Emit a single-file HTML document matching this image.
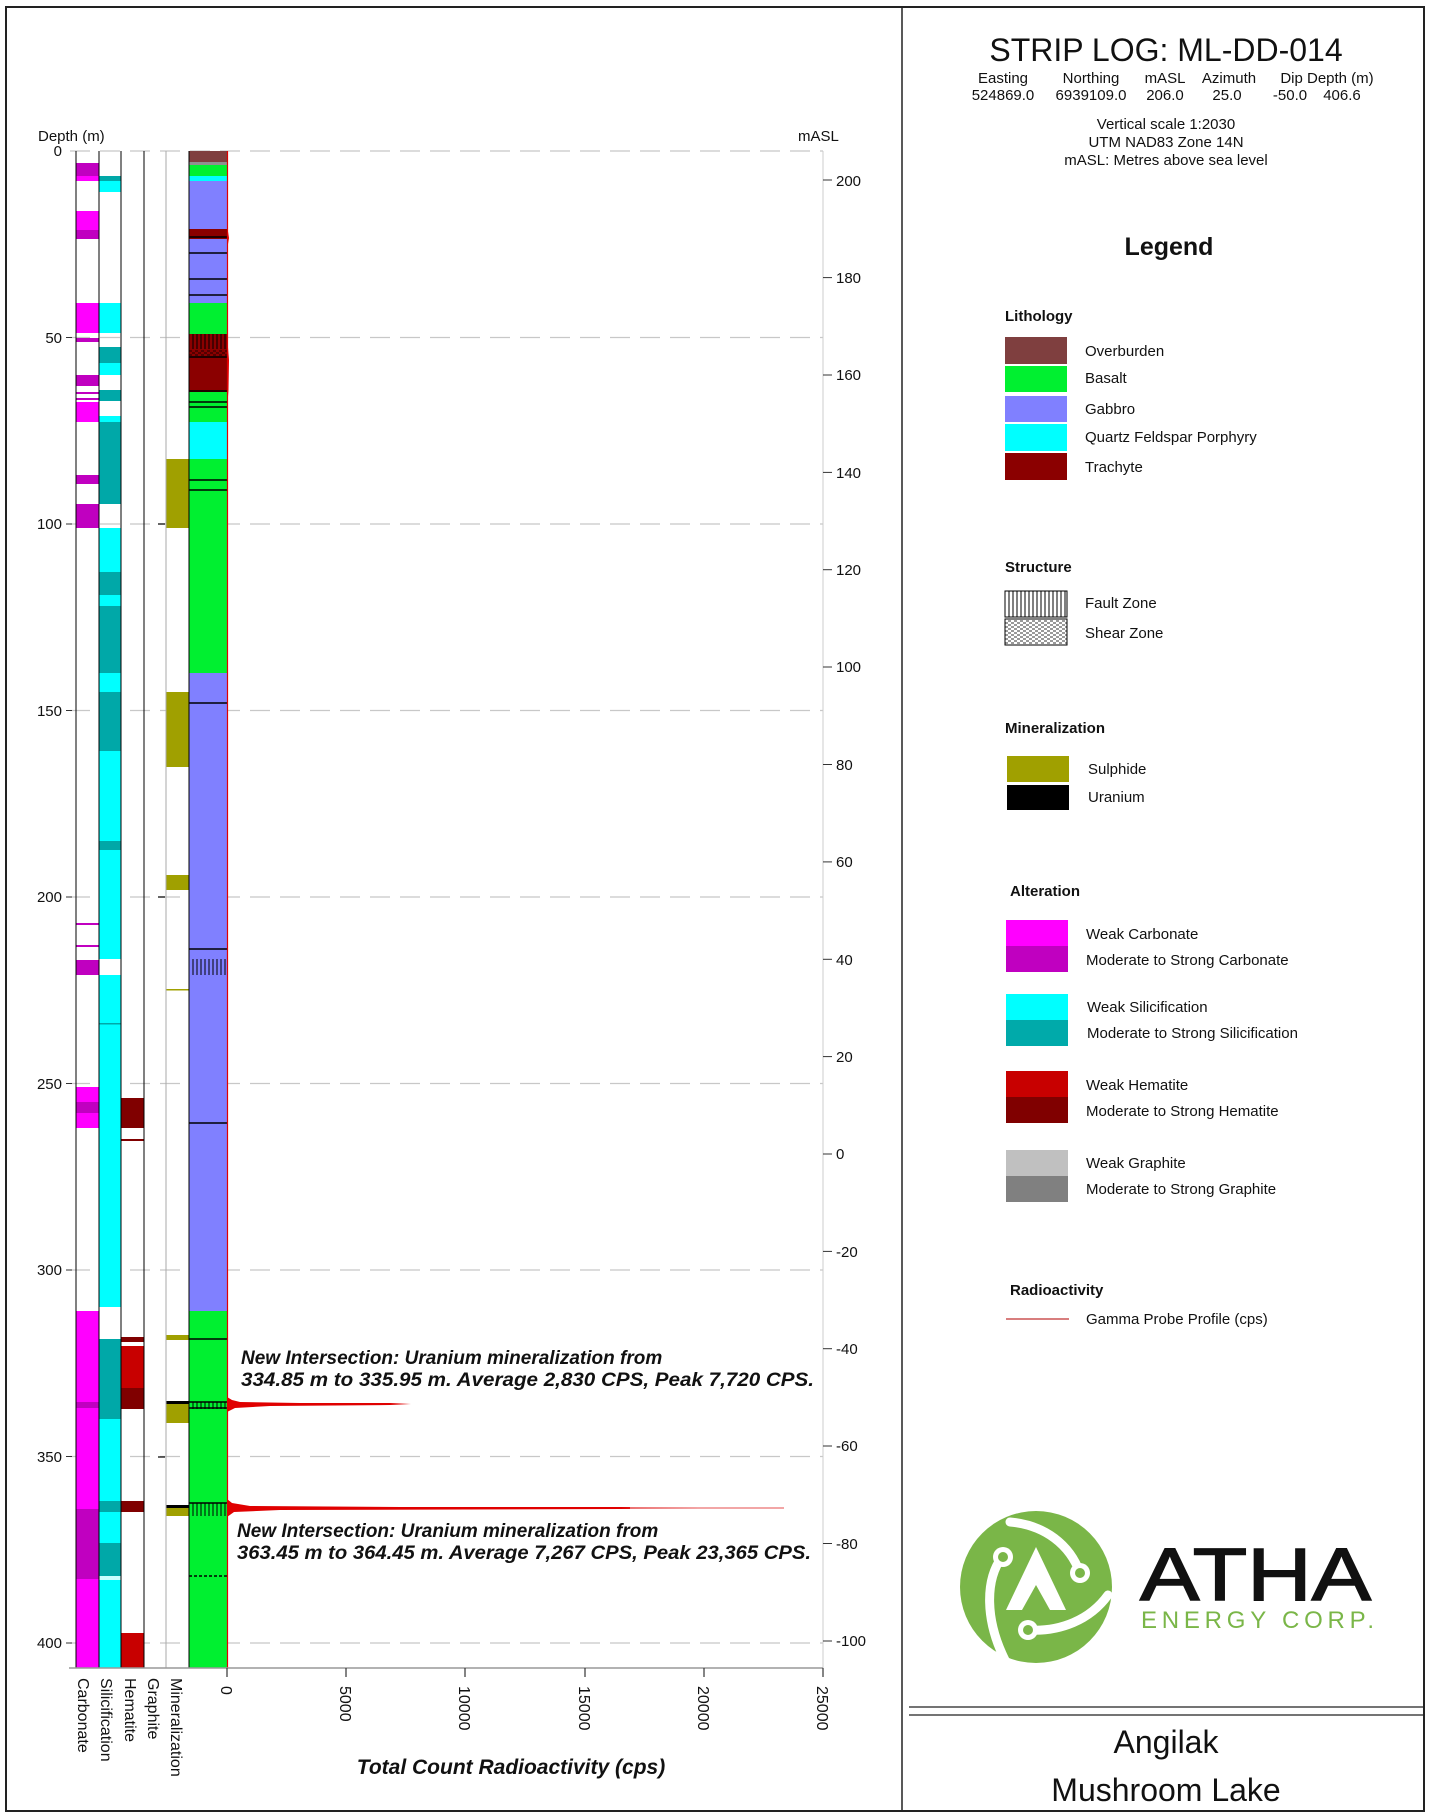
<!DOCTYPE html>
<html><head><meta charset="utf-8"><style>
html,body{margin:0;padding:0;background:#fff}
svg{display:block}
text{font-family:"Liberation Sans",Arial,sans-serif}
</style></head><body>
<svg width="1431" height="1819" viewBox="0 0 1431 1819" xmlns="http://www.w3.org/2000/svg">
<defs>
<pattern id="fault" width="4" height="10" patternUnits="userSpaceOnUse"><line x1="1" y1="0" x2="1" y2="10" stroke="#000" stroke-width="1"/></pattern>
<pattern id="shear" width="6" height="4" patternUnits="userSpaceOnUse"><line x1="0" y1="1" x2="3" y2="1" stroke="#000" stroke-width="0.8"/><line x1="3" y1="3" x2="6" y2="3" stroke="#000" stroke-width="0.8"/></pattern>
</defs>
<rect x="0" y="0" width="1431" height="1819" fill="#fff"/>
<rect x="6" y="7" width="1418" height="1804" fill="none" stroke="#222" stroke-width="2"/>
<line x1="902" y1="7" x2="902" y2="1811" stroke="#222" stroke-width="1.5"/>

<g stroke="#c8c8c8" stroke-width="1.2" stroke-dasharray="20,10">
<line x1="70" y1="151" x2="823" y2="151"/>
<line x1="70" y1="337.5" x2="823" y2="337.5"/>
<line x1="70" y1="524" x2="823" y2="524"/>
<line x1="70" y1="710.5" x2="823" y2="710.5"/>
<line x1="70" y1="897" x2="823" y2="897"/>
<line x1="70" y1="1083.5" x2="823" y2="1083.5"/>
<line x1="70" y1="1270" x2="823" y2="1270"/>
<line x1="70" y1="1456.5" x2="823" y2="1456.5"/>
<line x1="70" y1="1643" x2="823" y2="1643"/>
</g>

<g>
<rect x="76" y="163" width="23" height="13" fill="#c000c0"/>
<rect x="76" y="176" width="23" height="5" fill="#ff00ff"/>
<rect x="76" y="211" width="23" height="19" fill="#ff00ff"/>
<rect x="76" y="230" width="23" height="9" fill="#c000c0"/>
<rect x="76" y="303" width="23" height="30" fill="#ff00ff"/>
<rect x="76" y="338" width="23" height="4" fill="#c000c0"/>
<rect x="76" y="375" width="23" height="11" fill="#c000c0"/>
<rect x="76" y="392" width="23" height="2" fill="#c000c0"/>
<rect x="76" y="398" width="23" height="2" fill="#c000c0"/>
<rect x="76" y="402" width="23" height="20" fill="#ff00ff"/>
<rect x="76" y="475" width="23" height="9" fill="#c000c0"/>
<rect x="76" y="504" width="23" height="24" fill="#c000c0"/>
<rect x="76" y="923" width="23" height="2" fill="#c000c0"/>
<rect x="76" y="945" width="23" height="2" fill="#c000c0"/>
<rect x="76" y="960" width="23" height="15" fill="#c000c0"/>
<rect x="76" y="1087" width="23" height="41" fill="#ff00ff"/>
<rect x="76" y="1102" width="23" height="11" fill="#c000c0"/>
<rect x="76" y="1311" width="23" height="91" fill="#ff00ff"/>
<rect x="76" y="1402" width="23" height="6" fill="#c000c0"/>
<rect x="76" y="1408" width="23" height="101" fill="#ff00ff"/>
<rect x="76" y="1509" width="23" height="70" fill="#c000c0"/>
<rect x="76" y="1579" width="23" height="89" fill="#ff00ff"/>
</g>
<g>
<rect x="99" y="176" width="22" height="5" fill="#00a8a8"/>
<rect x="99" y="181" width="22" height="11" fill="#00ffff"/>
<rect x="99" y="303" width="22" height="30" fill="#00ffff"/>
<rect x="99" y="347" width="22" height="16" fill="#00a8a8"/>
<rect x="99" y="363" width="22" height="12" fill="#00ffff"/>
<rect x="99" y="390" width="22" height="11" fill="#00a8a8"/>
<rect x="99" y="416" width="22" height="6" fill="#00ffff"/>
<rect x="99" y="422" width="22" height="82" fill="#00a8a8"/>
<rect x="99" y="528" width="22" height="431" fill="#00ffff"/>
<rect x="99" y="572" width="22" height="23" fill="#00a8a8"/>
<rect x="99" y="606" width="22" height="67" fill="#00a8a8"/>
<rect x="99" y="692" width="22" height="59" fill="#00a8a8"/>
<rect x="99" y="841" width="22" height="9" fill="#00a8a8"/>
<rect x="99" y="975" width="22" height="332" fill="#00ffff"/>
<rect x="99" y="1023" width="22" height="1.5" fill="#00a8a8"/>
<rect x="99" y="1339" width="22" height="80" fill="#00a8a8"/>
<rect x="99" y="1419" width="22" height="82" fill="#00ffff"/>
<rect x="99" y="1501" width="22" height="11" fill="#00a8a8"/>
<rect x="99" y="1512" width="22" height="31" fill="#00ffff"/>
<rect x="99" y="1543" width="22" height="33" fill="#00a8a8"/>
<rect x="99" y="1576" width="22" height="4" fill="#c8ffff"/>
<rect x="99" y="1580" width="22" height="88" fill="#00ffff"/>
</g>
<g>
<rect x="121" y="1098" width="23" height="30" fill="#800000"/>
<rect x="121" y="1139" width="23" height="2" fill="#800000"/>
<rect x="121" y="1337" width="23" height="5" fill="#800000"/>
<rect x="121" y="1346" width="23" height="42" fill="#c80000"/>
<rect x="121" y="1388" width="23" height="21" fill="#800000"/>
<rect x="121" y="1501" width="23" height="11" fill="#800000"/>
<rect x="121" y="1633" width="23" height="35" fill="#c80000"/>
</g>
<g stroke="#000" stroke-width="1.2">
<line x1="158" y1="524" x2="165" y2="524"/>
<line x1="158" y1="897" x2="165" y2="897"/>
<line x1="158" y1="1457" x2="165" y2="1457"/>
</g>
<g>
<rect x="166" y="459" width="23" height="69" fill="#a0a000"/>
<rect x="166" y="692" width="23" height="75" fill="#a0a000"/>
<rect x="166" y="875" width="23" height="15" fill="#a0a000"/>
<rect x="166" y="989" width="23" height="1.5" fill="#a0a000"/>
<rect x="166" y="1335" width="23" height="5" fill="#a0a000"/>
<rect x="166" y="1404" width="23" height="19" fill="#a0a000"/>
<rect x="166" y="1401" width="23" height="3" fill="#000"/>
<rect x="166" y="1508" width="23" height="8" fill="#a0a000"/>
<rect x="166" y="1505" width="23" height="3" fill="#000"/>
</g>
<g>
<rect x="189" y="151" width="38" height="11" fill="#7f3f3f"/>
<rect x="189" y="162" width="38" height="3" fill="#909090"/>
<rect x="189" y="165" width="38" height="11" fill="#00f030"/>
<rect x="189" y="176" width="38" height="5" fill="#00ffff"/>
<rect x="189" y="181" width="38" height="48" fill="#8080ff"/>
<rect x="189" y="229" width="38" height="10" fill="#8b0000"/>
<rect x="189" y="239" width="38" height="64" fill="#8080ff"/>
<rect x="189" y="303" width="38" height="31" fill="#00f030"/>
<rect x="189" y="334" width="38" height="58" fill="#8b0000"/>
<rect x="189" y="334" width="38" height="15" fill="url(#fault)"/>
<rect x="189" y="350" width="38" height="7" fill="url(#shear)"/>
<rect x="189" y="392" width="38" height="30" fill="#00f030"/>
<rect x="189" y="422" width="38" height="37" fill="#00ffff"/>
<rect x="189" y="459" width="38" height="214" fill="#00f030"/>
<rect x="189" y="673" width="38" height="638" fill="#8080ff"/>
<rect x="189" y="1311" width="38" height="357" fill="#00f030"/>
<rect x="189" y="959" width="38" height="16" fill="url(#fault)"/>
<rect x="189" y="1402" width="38" height="7" fill="url(#fault)"/>
<rect x="189" y="1503" width="38" height="13" fill="url(#fault)"/>
<g stroke="#000" stroke-width="1.5">
<line x1="189" y1="237" x2="227" y2="237"/>
<line x1="189" y1="253" x2="227" y2="253"/>
<line x1="189" y1="279" x2="227" y2="279"/>
<line x1="189" y1="295" x2="227" y2="295"/>
<line x1="189" y1="357" x2="227" y2="357"/>
<line x1="189" y1="391" x2="227" y2="391"/>
<line x1="189" y1="402" x2="227" y2="402"/>
<line x1="189" y1="407" x2="227" y2="407"/>
<line x1="189" y1="480" x2="227" y2="480"/>
<line x1="189" y1="490" x2="227" y2="490"/>
<line x1="189" y1="703" x2="227" y2="703"/>
<line x1="189" y1="949" x2="227" y2="949"/>
<line x1="189" y1="1123" x2="227" y2="1123"/>
<line x1="189" y1="1339" x2="227" y2="1339"/>
<line x1="189" y1="1402" x2="227" y2="1402"/>
<line x1="189" y1="1408" x2="227" y2="1408"/>
<line x1="189" y1="1503" x2="227" y2="1503"/>
<line x1="189" y1="1576" x2="227" y2="1576" stroke-dasharray="3,2"/>
</g>
</g>
<g stroke="#000" stroke-width="1">
<line x1="76" y1="151" x2="76" y2="1668"/>
<line x1="99" y1="151" x2="99" y2="1668"/>
<line x1="121" y1="151" x2="121" y2="1668"/>
<line x1="144" y1="151" x2="144" y2="1668"/>
<line x1="189" y1="151" x2="189" y2="1668"/>
</g>
<line x1="166" y1="151" x2="166" y2="1668" stroke="#aaa" stroke-width="1"/>
<line x1="823" y1="151" x2="823" y2="1668" stroke="#ccc" stroke-width="1"/>
<line x1="227.5" y1="151" x2="227.5" y2="1668" stroke="#e00000" stroke-width="1.2"/>
<path d="M227,225 L229,238 L227,250 Z M227,335 L229,360 L228.5,390 L227,410 Z" fill="#e00000"/>
<polygon points="227,1397 232,1400 240,1402 300,1403 390,1403 411,1404 390,1405 270,1406 235,1408 227,1412" fill="#e00000"/>
<polygon points="227,1499 232,1503 250,1506 400,1507 620,1507 784,1508 620,1509 280,1510 234,1512 227,1517" fill="#e00000"/>
<line x1="630" y1="1508" x2="784" y2="1508" stroke="#e88" stroke-width="1.5"/>

<g font-size="15" fill="#111" text-anchor="end">
<text x="62" y="156">0</text>
<text x="62" y="343">50</text>
<text x="62" y="529">100</text>
<text x="62" y="716">150</text>
<text x="62" y="902">200</text>
<text x="62" y="1089">250</text>
<text x="62" y="1275">300</text>
<text x="62" y="1462">350</text>
<text x="62" y="1648">400</text>
</g>
<g stroke="#333" stroke-width="1">
<line x1="66" y1="337.5" x2="72" y2="337.5"/><line x1="66" y1="524" x2="72" y2="524"/><line x1="66" y1="710.5" x2="72" y2="710.5"/><line x1="66" y1="897" x2="72" y2="897"/><line x1="66" y1="1083.5" x2="72" y2="1083.5"/><line x1="66" y1="1270" x2="72" y2="1270"/><line x1="66" y1="1456.5" x2="72" y2="1456.5"/><line x1="66" y1="1643" x2="72" y2="1643"/>
</g>
<text x="38" y="141" font-size="15" fill="#111">Depth (m)</text>
<text x="798" y="141" font-size="15" fill="#111">mASL</text>

<g stroke="#333" stroke-width="1">
<line x1="823" y1="180" x2="832" y2="180"/><line x1="823" y1="277.6" x2="832" y2="277.6"/><line x1="823" y1="375" x2="832" y2="375"/><line x1="823" y1="472.4" x2="832" y2="472.4"/><line x1="823" y1="569.7" x2="832" y2="569.7"/><line x1="823" y1="667" x2="832" y2="667"/><line x1="823" y1="764.5" x2="832" y2="764.5"/><line x1="823" y1="861.9" x2="832" y2="861.9"/><line x1="823" y1="959.3" x2="832" y2="959.3"/><line x1="823" y1="1056.6" x2="832" y2="1056.6"/><line x1="823" y1="1154" x2="832" y2="1154"/><line x1="823" y1="1251.4" x2="832" y2="1251.4"/><line x1="823" y1="1348.7" x2="832" y2="1348.7"/><line x1="823" y1="1446" x2="832" y2="1446"/><line x1="823" y1="1543.5" x2="832" y2="1543.5"/><line x1="823" y1="1641" x2="832" y2="1641"/>
</g>
<g font-size="15" fill="#111">
<text x="836" y="186">200</text><text x="836" y="283">180</text><text x="836" y="380">160</text><text x="836" y="478">140</text><text x="836" y="575">120</text><text x="836" y="672">100</text><text x="836" y="770">80</text><text x="836" y="867">60</text><text x="836" y="965">40</text><text x="836" y="1062">20</text><text x="836" y="1159">0</text><text x="836" y="1257">-20</text><text x="836" y="1354">-40</text><text x="836" y="1451">-60</text><text x="836" y="1549">-80</text><text x="836" y="1646">-100</text>
</g>

<line x1="69" y1="1668" x2="823" y2="1668" stroke="#999" stroke-width="1.5"/>
<g stroke="#333" stroke-width="1.2">
<line x1="227" y1="1668" x2="227" y2="1677"/><line x1="346" y1="1668" x2="346" y2="1677"/><line x1="465" y1="1668" x2="465" y2="1677"/><line x1="585" y1="1668" x2="585" y2="1677"/><line x1="704" y1="1668" x2="704" y2="1677"/><line x1="823" y1="1668" x2="823" y2="1677"/>
</g>
<g font-size="16" fill="#111">
<text transform="translate(221,1686) rotate(90)">0</text>
<text transform="translate(340,1686) rotate(90)">5000</text>
<text transform="translate(459,1686) rotate(90)">10000</text>
<text transform="translate(579,1686) rotate(90)">15000</text>
<text transform="translate(698,1686) rotate(90)">20000</text>
<text transform="translate(817,1686) rotate(90)">25000</text>
<text transform="translate(78,1678) rotate(90)">Carbonate</text>
<text transform="translate(101,1678) rotate(90)">Silicification</text>
<text transform="translate(125,1678) rotate(90)">Hematite</text>
<text transform="translate(148,1678) rotate(90)">Graphite</text>
<text transform="translate(171,1678) rotate(90)">Mineralization</text>
</g>
<text x="511" y="1774" font-size="21" font-weight="bold" font-style="italic" text-anchor="middle" fill="#111">Total Count Radioactivity (cps)</text>

<g font-size="19" font-weight="bold" font-style="italic" fill="#111">
<text x="241" y="1364">New Intersection: Uranium mineralization from</text>
<text x="241" y="1386" textLength="573" lengthAdjust="spacingAndGlyphs">334.85 m to 335.95 m. Average 2,830 CPS, Peak 7,720 CPS.</text>
<text x="237" y="1537">New Intersection: Uranium mineralization from</text>
<text x="237" y="1559" textLength="574" lengthAdjust="spacingAndGlyphs">363.45 m to 364.45 m. Average 7,267 CPS, Peak 23,365 CPS.</text>
</g>

<text x="1166" y="61" font-size="32" text-anchor="middle" fill="#111">STRIP LOG: ML-DD-014</text>
<g font-size="15" fill="#111" text-anchor="middle">
<text x="1003" y="83">Easting</text><text x="1091" y="83">Northing</text><text x="1165" y="83">mASL</text><text x="1229" y="83">Azimuth</text><text x="1327" y="83">Dip Depth (m)</text>
<text x="1003" y="100">524869.0</text><text x="1091" y="100">6939109.0</text><text x="1165" y="100">206.0</text><text x="1227" y="100">25.0</text><text x="1290" y="100">-50.0</text><text x="1342" y="100">406.6</text>
<text x="1166" y="129">Vertical scale 1:2030</text>
<text x="1166" y="147">UTM NAD83 Zone 14N</text>
<text x="1166" y="165">mASL: Metres above sea level</text>
</g>
<text x="1169" y="255" font-size="25" font-weight="bold" text-anchor="middle" fill="#111">Legend</text>

<g font-size="15" fill="#111">
<text x="1005" y="321" font-weight="bold">Lithology</text>
<rect x="1005" y="337" width="62" height="27" fill="#7f3f3f"/><text x="1085" y="356">Overburden</text>
<rect x="1005" y="366" width="62" height="26" fill="#00f030"/><text x="1085" y="383">Basalt</text>
<rect x="1005" y="396" width="62" height="26" fill="#8080ff"/><text x="1085" y="414">Gabbro</text>
<rect x="1005" y="424" width="62" height="27" fill="#00ffff"/><text x="1085" y="442">Quartz Feldspar Porphyry</text>
<rect x="1005" y="453" width="62" height="27" fill="#8b0000"/><text x="1085" y="472">Trachyte</text>

<text x="1005" y="572" font-weight="bold">Structure</text>
<rect x="1005" y="591" width="62" height="26" fill="#fff" stroke="#000" stroke-width="1"/><rect x="1005" y="591" width="62" height="26" fill="url(#fault)"/><text x="1085" y="608">Fault Zone</text>
<rect x="1005" y="619" width="62" height="26" fill="#fff" stroke="#000" stroke-width="1"/><rect x="1005" y="619" width="62" height="26" fill="url(#shear)"/><text x="1085" y="638">Shear Zone</text>

<text x="1005" y="733" font-weight="bold">Mineralization</text>
<rect x="1007" y="756" width="62" height="26" fill="#a0a000"/><text x="1088" y="774">Sulphide</text>
<rect x="1007" y="785" width="62" height="25" fill="#000"/><text x="1088" y="802">Uranium</text>

<text x="1010" y="896" font-weight="bold">Alteration</text>
<rect x="1006" y="920" width="62" height="26" fill="#ff00ff"/><rect x="1006" y="946" width="62" height="26" fill="#c000c0"/>
<text x="1086" y="939">Weak Carbonate</text><text x="1086" y="965">Moderate to Strong Carbonate</text>
<rect x="1006" y="994" width="62" height="26" fill="#00ffff"/><rect x="1006" y="1020" width="62" height="26" fill="#00aaaa"/>
<text x="1087" y="1012">Weak Silicification</text><text x="1087" y="1038">Moderate to Strong Silicification</text>
<rect x="1006" y="1071" width="62" height="26" fill="#c80000"/><rect x="1006" y="1097" width="62" height="26" fill="#800000"/>
<text x="1086" y="1090">Weak Hematite</text><text x="1086" y="1116">Moderate to Strong Hematite</text>
<rect x="1006" y="1150" width="62" height="26" fill="#c0c0c0"/><rect x="1006" y="1176" width="62" height="26" fill="#808080"/>
<text x="1086" y="1168">Weak Graphite</text><text x="1086" y="1194">Moderate to Strong Graphite</text>

<text x="1010" y="1295" font-weight="bold">Radioactivity</text>
<line x1="1006" y1="1319" x2="1069" y2="1319" stroke="#c03030" stroke-width="1.2"/>
<text x="1086" y="1324">Gamma Probe Profile (cps)</text>
</g>

<!-- logo -->
<g>
<circle cx="1036" cy="1587" r="76" fill="#7ab648"/>
<g fill="none" stroke="#fff" stroke-width="9" stroke-linecap="round">
<path d="M1002,1557 C985,1580 985,1620 1005,1660"/>
<path d="M1080,1573 C1070,1545 1045,1525 1010,1522"/>
<path d="M1028,1630 C1060,1632 1090,1620 1108,1595"/>
</g>
<circle cx="1003" cy="1557" r="10" fill="#fff"/>
<circle cx="1080" cy="1573" r="10" fill="#fff"/>
<circle cx="1028" cy="1630" r="10" fill="#fff"/>
<circle cx="1003" cy="1557" r="5" fill="#7ab648"/>
<circle cx="1080" cy="1573" r="5" fill="#7ab648"/>
<circle cx="1028" cy="1630" r="5" fill="#7ab648"/>
<polygon points="1036,1547 1066,1610 1006,1610" fill="#fff"/>
<polygon points="1036,1585 1050,1610 1022,1610" fill="#7ab648"/>
</g>
<text x="1140" y="1600" font-size="74" fill="#111" textLength="231" lengthAdjust="spacingAndGlyphs" stroke="#111" stroke-width="1.5">ATHA</text>
<text x="1141" y="1628" font-size="24" fill="#7ab648" textLength="233" lengthAdjust="spacing">ENERGY CORP.</text>

<line x1="909" y1="1707" x2="1423" y2="1707" stroke="#222" stroke-width="1.2"/>
<line x1="909" y1="1715" x2="1423" y2="1715" stroke="#222" stroke-width="1.2"/>
<text x="1166" y="1753" font-size="32" text-anchor="middle" fill="#111">Angilak</text>
<text x="1166" y="1801" font-size="32" text-anchor="middle" fill="#111">Mushroom Lake</text>
</svg>
</body></html>
